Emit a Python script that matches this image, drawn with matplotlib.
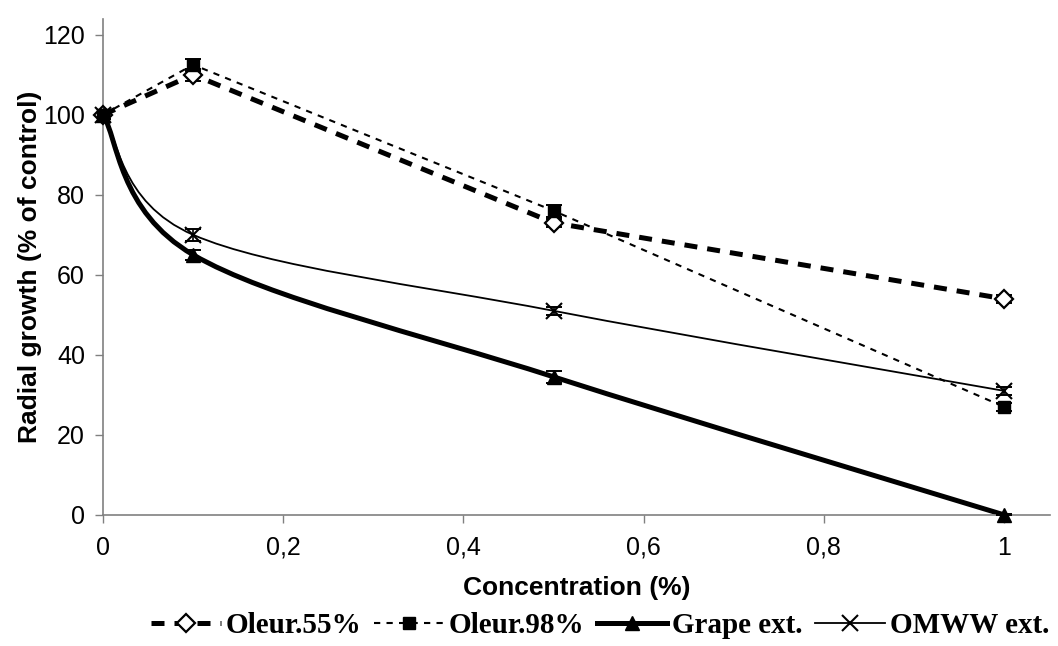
import numpy as np
import matplotlib
matplotlib.use("Agg")
import matplotlib.pyplot as plt
from matplotlib.path import Path
from matplotlib.patches import PathPatch
from matplotlib.lines import Line2D

# data
conc = [0, 0.1, 0.5, 1]
oleur55 = [100, 110, 73, 54]
oleur55_err = [1.0, 1.5, 1.0, 1.0]
oleur98 = [100, 112.5, 76, 27]
oleur98_err = [1.0, 1.5, 1.5, 1.0]
grape = [100, 65, 34.5, 0]
grape_err = [1.0, 1.2, 1.5, 0.3]
omww = [100, 70, 51, 31]
omww_err = [1.0, 1.5, 1.0, 1.0]

x_ticks = [0, 0.2, 0.4, 0.6, 0.8, 1.0]
x_ticklabels = ["0", "0,2", "0,4", "0,6", "0,8", "1"]
y_ticks = [0, 20, 40, 60, 80, 100, 120]

plt.rcParams['font.family'] = ['Liberation Sans', 'DejaVu Sans']


def smooth_path(xs, ys):
    # Excel-style smoothed line: cubic Bezier with Catmull-Rom control points
    p = np.column_stack([xs, ys]).astype(float)
    n = len(p)
    verts = [p[0]]
    codes = [Path.MOVETO]
    for i in range(n - 1):
        p_prev = p[i - 1] if i > 0 else p[i]
        p_next2 = p[i + 2] if i + 2 < n else p[i + 1]
        c1 = p[i] + (p[i + 1] - p_prev) / 6.0
        c2 = p[i + 1] - (p_next2 - p[i]) / 6.0
        verts += [c1, c2, p[i + 1]]
        codes += [Path.CURVE4] * 3
    return Path(verts, codes)


fig = plt.figure(figsize=(10.58, 6.46), dpi=100)
ax = fig.add_axes([0.0974, 0.203, 0.8950, 0.768])

# (values, errors, line style, marker style, smoothed?)
series = [
    (oleur55, oleur55_err, dict(lw=3.6, ls=(0, (2.6, 2.0))),
     dict(marker='D', ms=9, mfc='white', mec='black', mew=1.6), False),
    (oleur98, oleur98_err, dict(lw=1.5, ls=(0, (3, 3))),
     dict(marker='s', ms=8.5, mfc='black', mec='black'), False),
    (grape, grape_err, dict(lw=3.6, ls='-'),
     dict(marker='^', ms=9.5, mfc='black', mec='black'), True),
    (omww, omww_err, dict(lw=1.3, ls='-'),
     dict(marker='x', ms=12, mfc='black', mec='black', mew=1.5), True),
]
names = ["Oleur.55%", "Oleur.98%", "Grape ext.", "OMWW ext."]

handles = []
for (vals, err, lstyle, mstyle, smooth), name in zip(series, names):
    if smooth:
        patch = PathPatch(smooth_path(conc, vals), fill=False, edgecolor='black',
                          linewidth=lstyle['lw'], linestyle=lstyle['ls'], zorder=2)
        ax.add_patch(patch)
    else:
        ax.plot(conc, vals, color='black', linewidth=lstyle['lw'],
                linestyle=lstyle['ls'], zorder=2)
    ax.errorbar(conc, vals, yerr=err, fmt='none', ecolor='black', elinewidth=1.2,
                capsize=6, capthick=1.4, zorder=3)
    ax.plot(conc, vals, linestyle='none', zorder=4, clip_on=False, **mstyle)
    handles.append(Line2D([0], [0], color='black', linewidth=lstyle['lw'],
                          linestyle=lstyle['ls'], **mstyle))

ax.set_xlim(0, 1.051)
ax.set_ylim(0, 124)
ax.set_xticks(x_ticks)
ax.set_xticklabels(x_ticklabels)
ax.set_yticks(y_ticks)
ax.tick_params(axis='both', labelsize=18, colors='black', direction='out',
               length=6, width=1, pad=7)
ax.tick_params(axis='x', pad=9)
ax.tick_params(axis='both', color='#808080')
for s in ['top', 'right']:
    ax.spines[s].set_visible(False)
for s in ['left', 'bottom']:
    ax.spines[s].set_color('#808080')
    ax.spines[s].set_linewidth(1.2)

ax.set_xlabel("Concentration (%)", fontsize=19, fontweight='bold', labelpad=12)
ax.set_ylabel("Radial growth (% of control)", fontsize=19, fontweight='bold', labelpad=1)

fig.legend(handles, names, loc='lower center', bbox_to_anchor=(0.567, -0.03), ncol=4,
           frameon=False, handlelength=2.4, handletextpad=0.15, columnspacing=0.45,
           prop=dict(family=['Liberation Serif', 'DejaVu Serif'], weight='bold', size=21))

fig.savefig("out.png", dpi=100)
